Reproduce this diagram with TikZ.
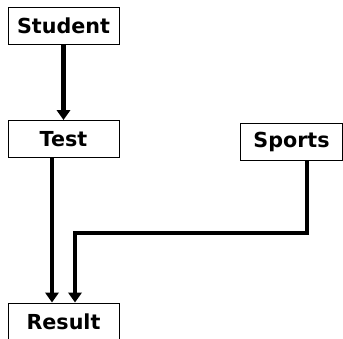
\documentclass[tikz,border=0pt]{standalone}
\usepackage{fontspec}
\setmainfont{DejaVu Sans}
\usetikzlibrary{arrows.meta, positioning}

\begin{document}
\begin{tikzpicture}[
    x=0.75pt, y=-0.75pt,
    font=\bfseries\fontsize{15.5}{18}\selectfont,
    plainbox/.style={draw=black, line width=0.75pt, fill=white,
      minimum width=111*0.75pt, minimum height=37*0.75pt, inner sep=0pt},
    flow/.style={line width=3.4pt, -{Triangle[length=7.5pt, width=10pt]}},
  ]

  \useasboundingbox (0,0) rectangle (343,339);

  % --- boxes ---
  \node[plainbox] (student) at (63.5,25.5) {Student};
  \node[plainbox] (test) at (63.5,139) {Test};
  \node[plainbox, minimum width=102*0.75pt] (sports) at (291.5,141.5) {Sports};
  \node[plainbox] (result) at (63.5,321.5) {Result};

  % --- bends ---
  \coordinate (tx) at (52,0);
  \coordinate (sx) at (307,0);
  \coordinate (turn) at (75,233);

  % --- connectors ---
  \draw[flow] (student) -- (test);
  \draw[flow] (tx |- test.south) -- (tx |- result.north);
  \draw[flow] (sx |- sports.south) |- (turn) -- (turn |- result.north);

\end{tikzpicture}
\end{document}
